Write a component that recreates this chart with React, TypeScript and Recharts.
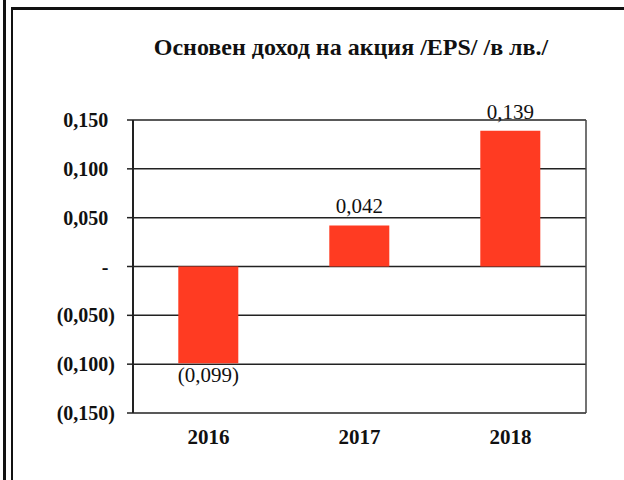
import { BarChart, Bar, XAxis, YAxis, CartesianGrid, LabelList } from 'recharts';

const years = ['2016', '2017', '2018'];
const eps = [-0.099, 0.042, 0.139];
const yTicks = [-0.15, -0.1, -0.05, 0, 0.05, 0.1, 0.15];
const title = 'Основен доход на акция /EPS/ /в лв./';

const data = years.map((year, i) => ({ year, eps: eps[i] }));

const serif = '"Liberation Serif", "Times New Roman", serif';

const fmt = (v: number) => {
  if (v === 0) return '-';
  const s = Math.abs(v).toFixed(3).replace('.', ',');
  return v < 0 ? `(${s})` : s;
};

// accounting style: positives and dash leave room for the closing bracket
const fmtTick = (v: number) => (v < 0 ? fmt(v) : fmt(v) + '\u00A0\u200A');

const ValueLabel = (props: any) => {
  const { x, y, width, height, value } = props;
  const top = Math.min(y, y + height);
  const bottom = Math.max(y, y + height);
  const neg = value < 0;
  return (
    <text
      x={x + width / 2}
      y={neg ? bottom + 19 : top - 12}
      textAnchor="middle"
      fontFamily={serif}
      fontSize={21}
      fill="#111"
    >
      {fmt(value)}
    </text>
  );
};

export default function App() {
  return (
    <div style={{ position: 'absolute', left: 0, top: 0, width: 624, height: 480, background: '#fff' }}>
      {/* scanned frame */}
      <div style={{ position: 'absolute', left: 3, top: 0, width: 3, height: 480, background: '#111' }} />
      <div style={{ position: 'absolute', left: 11, top: 8, width: 2, height: 472, background: '#111' }} />
      <div style={{ position: 'absolute', left: 11, top: 7, width: 613, height: 3, background: '#111' }} />
      <div
        style={{
          position: 'absolute',
          left: 0,
          top: 34,
          width: 702,
          textAlign: 'center',
          fontFamily: serif,
          fontWeight: 'bold',
          fontSize: 24,
          color: '#111',
        }}
      >
        {title}
      </div>
      <BarChart
        width={624}
        height={480}
        data={data}
        margin={{ top: 120, right: 37, bottom: 27, left: 0 }}
        barCategoryGap="30%"
        style={{ position: 'absolute', left: 0, top: 0 }}
      >
        <CartesianGrid vertical={false} stroke="#222" strokeWidth={1.5} strokeOpacity={1} />
        <XAxis
          dataKey="year"
          axisLine={false}
          tickLine={false}
          tickSize={0}
          tickMargin={16}
          height={40}
          tick={{ fontFamily: serif, fontWeight: 'bold', fontSize: 21, fill: '#111' }}
        />
        <YAxis
          domain={[-0.15, 0.15]}
          ticks={yTicks}
          width={133}
          tickFormatter={fmtTick}
          tickSize={6}
          tickMargin={12}
          axisLine={{ stroke: '#222', strokeWidth: 2 }}
          tickLine={{ stroke: '#222', strokeWidth: 1.5 }}
          tick={{ fontFamily: serif, fontWeight: 'bold', fontSize: 20, fill: '#111' }}
        />
        <YAxis
          yAxisId="right"
          orientation="right"
          domain={[-0.15, 0.15]}
          width={1}
          tick={false}
          tickLine={false}
          axisLine={{ stroke: '#444', strokeWidth: 1.5 }}
        />
        <Bar dataKey="eps" fill="#ff3b22" isAnimationActive={false}>
          <LabelList dataKey="eps" content={ValueLabel} />
        </Bar>
      </BarChart>
    </div>
  );
}
